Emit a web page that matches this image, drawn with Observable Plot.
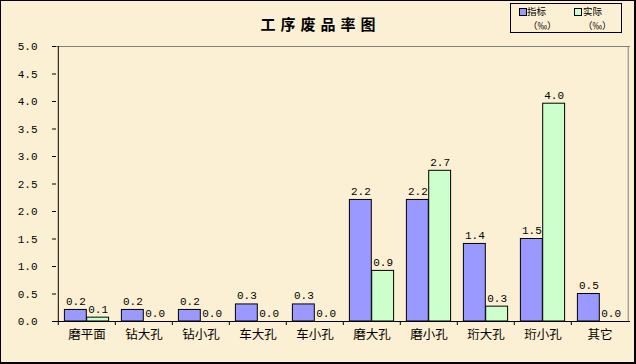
<!DOCTYPE html>
<html>
<head>
<meta charset="utf-8">
<script src="https://cdn.jsdelivr.net/npm/d3@7"></script>
<script src="https://cdn.jsdelivr.net/npm/@observablehq/plot@0.6"></script>
<style>
  html, body { margin: 0; padding: 0; background: #fcf0d4; }
  #wrap { position: relative; width: 636px; height: 364px; background: #fcf0d4; overflow: hidden; }
  #wrap svg { position: absolute; left: 0; top: 0; }
  #title { position: absolute; left: 0; width: 636px; top: 13px; text-align: center; font: bold 15px "Noto Sans CJK SC", sans-serif; letter-spacing: 5px; color: #000; padding-left: 5px; box-sizing: border-box; }
  #legend { position: absolute; left: 510px; top: 3px; width: 112px; height: 30px; border: 1px solid #000; box-sizing: border-box; font: 9.5px "Noto Sans CJK SC", sans-serif; color: #000; }
  .sw { position: absolute; width: 6px; height: 6px; border: 1px solid #000; }
  .lt { position: absolute; line-height: 14px; white-space: nowrap; }
  #border { position: absolute; left: 0; top: 0; width: 636px; height: 364px; border: 1px solid #000; border-right-width: 2px; border-bottom-width: 2px; box-sizing: border-box; pointer-events: none; }
</style>
</head>
<body>
<div id="wrap">
  <div id="chart"></div>
  <div id="title"></div>
  <div id="legend"></div>
  <div id="border"></div>
</div>
<script>
const categories = ["磨平面", "钻大孔", "钻小孔", "车大孔", "车小孔", "磨大孔", "磨小孔", "珩大孔", "珩小孔", "其它"];
const targetValues = [0.21, 0.21, 0.21, 0.31, 0.31, 2.21, 2.21, 1.41, 1.50, 0.50];
const actualValues = [0.07, 0, 0, 0, 0, 0.92, 2.74, 0.27, 3.96, 0];
const seriesNames = ["指标", "实际"];
const unitLabel = "（‰）";
const yTicks = [0, 0.5, 1, 1.5, 2, 2.5, 3, 3.5, 4, 4.5, 5];
const titleText = "工序废品率图";
const colors = ["#9999ff", "#ccffcc"];

const W = 636, H = 364;
const mL = 56, mR = 6, mT = 46, mB = 43;
const step = (W - mL - mR) / categories.length;
const barW = 22.3;
const outer = step / 2 - barW;

const rows = categories.map((c, i) => ({cat: c, t: targetValues[i], a: actualValues[i]}));
const numFont = "'Liberation Mono', 'DejaVu Sans Mono', monospace";
const cjkFont = "'Noto Sans CJK SC', sans-serif";

const chart = Plot.plot({
  width: W, height: H,
  marginLeft: mL, marginRight: mR, marginTop: mT, marginBottom: mB,
  style: {background: "transparent", overflow: "visible"},
  x: {domain: categories, padding: 0, axis: null},
  y: {domain: [0, 5], axis: null},
  marks: [
    Plot.ruleY([5], {stroke: "#808080"}),
    Plot.ruleX([categories[categories.length - 1]], {dx: step / 2 - 0.5, stroke: "#808080"}),
    Plot.barY(rows, {x: "cat", y: "t", fill: colors[0], stroke: "#000", strokeWidth: 1, insetLeft: outer, insetRight: step / 2}),
    Plot.barY(rows, {x: "cat", y: "a", fill: colors[1], stroke: "#000", strokeWidth: 1, insetLeft: step / 2, insetRight: outer}),
    Plot.text(rows, {x: "cat", y: "t", text: d => d.t.toFixed(1), dx: -barW / 2, lineAnchor: "bottom", dy: -5, fontFamily: numFont, fontSize: 11, fill: "#000"}),
    Plot.text(rows, {x: "cat", y: "a", text: d => d.a.toFixed(1), dx: barW / 2, lineAnchor: "bottom", dy: -5, fontFamily: numFont, fontSize: 11, fill: "#000"}),
    Plot.ruleY([0], {stroke: "#000"}),
    Plot.ruleX([categories[0]], {dx: -step / 2, stroke: "#000"}),
    Plot.axisY({ticks: yTicks, tickSize: 4, tickPadding: 15, tickFormat: d => d.toFixed(1), fontFamily: numFont, fontSize: 11, color: "#000", label: null}),
    Plot.axisX({ticks: categories, tickSize: 4, dx: -step / 2, tickFormat: () => "", color: "#000", label: null}),
    Plot.axisX({ticks: categories, tickSize: 0, tickPadding: 9, fontFamily: cjkFont, fontSize: 12.5, color: "#000", label: null})
  ]
});
document.getElementById("chart").appendChild(chart);
document.getElementById("title").textContent = titleText;

const legend = document.getElementById("legend");
const pos = [{sx: 8, tx: 16, ux: 17}, {sx: 63, tx: 72, ux: 72}];
seriesNames.forEach((name, i) => {
  const sw = document.createElement("div");
  sw.className = "sw";
  sw.style.left = pos[i].sx + "px"; sw.style.top = "4px"; sw.style.background = colors[i];
  legend.appendChild(sw);
  const t = document.createElement("div");
  t.className = "lt"; t.textContent = name;
  t.style.left = pos[i].tx + "px"; t.style.top = "0px";
  legend.appendChild(t);
  const u = document.createElement("div");
  u.className = "lt"; u.textContent = unitLabel;
  u.style.left = pos[i].ux + "px"; u.style.top = "14px";
  legend.appendChild(u);
});
</script>
</body>
</html>
